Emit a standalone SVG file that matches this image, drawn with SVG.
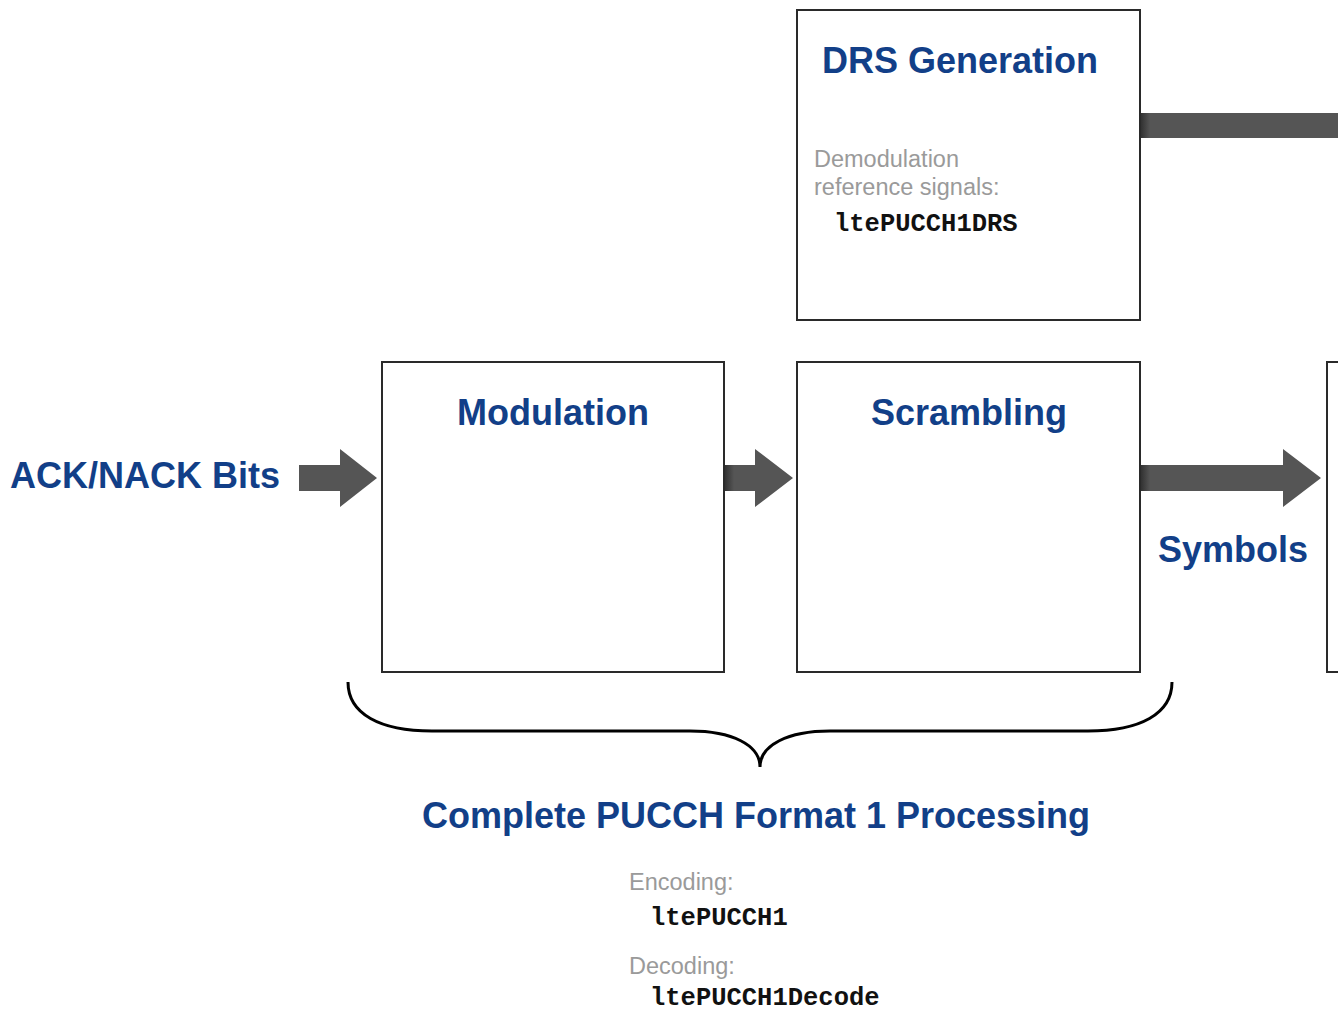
<svg xmlns="http://www.w3.org/2000/svg" width="1338" height="1012" viewBox="0 0 1338 1012">
<style>
.box{fill:#fff;stroke:#2a2a2a;stroke-width:2}
.title{font-family:"Liberation Sans",Arial,sans-serif;font-weight:bold;font-size:36px;fill:#123f88}
.note{font-family:"Liberation Sans",Arial,sans-serif;font-size:23.5px;fill:#9a9a9a}
.code{font-family:"Liberation Mono","Courier New",monospace;font-weight:bold;font-size:25.5px;fill:#111}
.arrow{fill:#555}
.brace{fill:none;stroke:#000;stroke-width:3}
</style>
<defs>
<linearGradient id="shade" x1="0" y1="0" x2="1" y2="0">
<stop offset="0" stop-color="#2e2e2e"/>
<stop offset="1" stop-color="#555"/>
</linearGradient>
</defs>
<g id="connectors">
<polygon class="arrow" points="299,465 340,465 340,449 377,478 340,507 340,491 299,491"/>
<polygon class="arrow" points="724,465 755,465 755,449 793,478 755,507 755,491 724,491"/>
<rect x="724" y="465" width="10" height="26" fill="url(#shade)"/>
<polygon class="arrow" points="1140,465 1283,465 1283,449 1321,478 1283,507 1283,491 1140,491"/>
<rect x="1140" y="465" width="10" height="26" fill="url(#shade)"/>
<rect class="arrow" x="1140" y="113" width="198" height="25"/>
<rect x="1140" y="113" width="10" height="25" fill="url(#shade)"/>
<path class="brace" d="M348,682 C348,714 380,731 432,731 L690,731 C732,731 760,745 760,767 C760,745 788,731 830,731 L1088,731 C1140,731 1172,714 1172,682"/>
</g>
<g id="input-label">
<text class="title" x="10" y="488" font-size="34">ACK/NACK Bits</text>
</g>
<g id="drs-generation">
<rect class="box" x="797" y="10" width="343" height="310"/>
<text class="title" x="822" y="73">DRS Generation</text>
<text class="note" x="814" y="167">Demodulation</text>
<text class="note" x="814" y="195">reference signals:</text>
<text class="code" x="834" y="231">ltePUCCH1DRS</text>
</g>
<g id="modulation">
<rect class="box" x="382" y="362" width="342" height="310"/>
<text class="title" x="553" y="425" text-anchor="middle">Modulation</text>
</g>
<g id="scrambling">
<rect class="box" x="797" y="362" width="343" height="310"/>
<text class="title" x="969" y="425" text-anchor="middle">Scrambling</text>
</g>
<g id="next-block">
<rect class="box" x="1327" y="362" width="60" height="310"/>
</g>
<g id="symbols-label">
<text class="title" x="1158" y="562">Symbols</text>
</g>
<g id="pucch-processing">
<text class="title" x="756" y="828" text-anchor="middle">Complete PUCCH Format 1 Processing</text>
<text class="note" x="629" y="890">Encoding:</text>
<text class="code" x="650" y="925">ltePUCCH1</text>
<text class="note" x="629" y="974">Decoding:</text>
<text class="code" x="650" y="1005">ltePUCCH1Decode</text>
</g>
</svg>
